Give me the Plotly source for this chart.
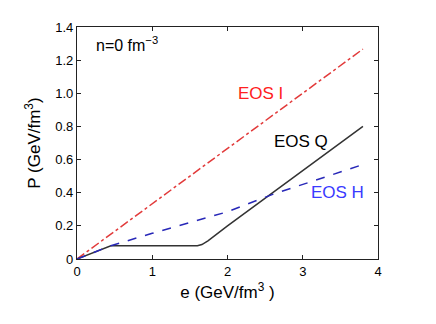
import plotly.graph_objects as go

# EOS I: ideal gas P = e/3
e_I = [0.0, 3.8]
P_I = [0.0, 1.267]

# EOS H: hadron resonance gas
e_H = [0.0, 0.45, 1.0, 2.0, 2.6, 3.0, 3.8]
P_H = [0.0, 0.08, 0.155, 0.285, 0.39, 0.45, 0.57]

# EOS Q: mixed phase, flat pressure, then QGP
e_Q = [0.0, 0.45, 1.6, 1.66, 1.74, 1.85, 2.0, 3.8]
P_Q = [0.0, 0.08, 0.08, 0.087, 0.11, 0.148, 0.2, 0.8]

y_ticks = [0, 0.2, 0.4, 0.6, 0.8, 1.0, 1.2, 1.4]
y_labels = ["0", "0.2", "0.4", "0.6", "0.8", "1.0", "1.2", "1.4"]
x_ticks = [0, 1, 2, 3, 4]

fig = go.Figure()
fig.add_trace(go.Scatter(x=e_I, y=P_I, mode="lines",
                         line=dict(color="#e23a3a", width=1.5, dash="dashdot")))
fig.add_trace(go.Scatter(x=e_Q, y=P_Q, mode="lines",
                         line=dict(color="#333333", width=1.5)))
fig.add_trace(go.Scatter(x=e_H, y=P_H, mode="lines",
                         line=dict(color="#2828b8", width=1.5, dash="dash")))

font = "Liberation Sans, Arial, sans-serif"
fig.add_annotation(x=0.22, y=1.3, text="n=0 fm<sup>−3</sup>", showarrow=False,
                   xanchor="left", font=dict(size=16, color="black", family=font))
fig.add_annotation(x=2.44, y=1.0, text="EOS I", showarrow=False,
                   font=dict(size=17, color="#ff2020", family=font))
fig.add_annotation(x=2.98, y=0.71, text="EOS Q", showarrow=False,
                   font=dict(size=17, color="black", family=font))
fig.add_annotation(x=3.46, y=0.40, text="EOS H", showarrow=False,
                   font=dict(size=17, color="#3a3aff", family=font))

axis_style = dict(showline=True, linecolor="#222222", linewidth=1.2, mirror="ticks",
                  ticks="inside", ticklen=4, tickcolor="#222222", showgrid=False,
                  zeroline=False, tickfont=dict(size=13, color="black", family=font))

fig.update_xaxes(range=[0, 4], tickvals=x_ticks,
                 title=dict(text="e (GeV/fm<sup>3</sup> )", font=dict(size=17, family=font, color="black"),
                            standoff=8),
                 **axis_style)
fig.update_yaxes(range=[0, 1.4], tickvals=y_ticks, ticktext=y_labels,
                 title=dict(text="P (GeV/fm<sup>3</sup>)", font=dict(size=17, family=font, color="black"),
                            standoff=10),
                 **axis_style)

# page body has an 8px margin, so the figure is a bit smaller than the window
fig.update_layout(width=428, height=316, showlegend=False,
                  margin=dict(l=69, r=58, t=15, b=65),
                  plot_bgcolor="white", paper_bgcolor="white")

fig.write_html("out.html")
